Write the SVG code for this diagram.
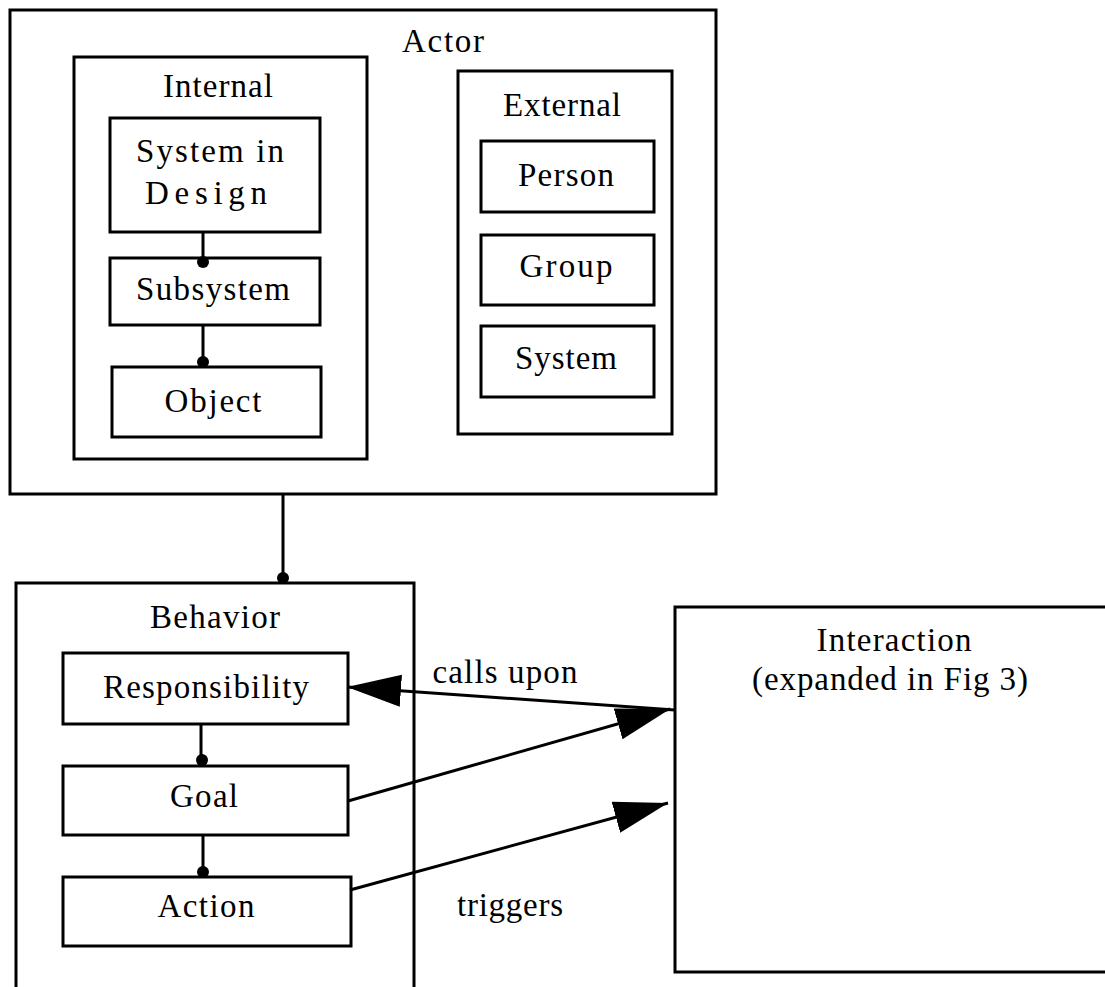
<svg xmlns="http://www.w3.org/2000/svg" width="1105" height="987" viewBox="0 0 1105 987">
<style>
.box{fill:none;stroke:#000;stroke-width:3}
.t{font-family:"Liberation Serif","Times New Roman",serif;font-size:33px;fill:#000;text-anchor:middle}
.ln{fill:none;stroke:#000;stroke-width:3}
.dot{fill:#000}
</style>
<defs>
<marker id="ah" markerUnits="userSpaceOnUse" markerWidth="56" markerHeight="34" viewBox="0 0 56 34" refX="54" refY="17" orient="auto">
<path d="M0,1 L54,17 L0,33 Z" fill="#000"/>
</marker>
</defs>
<rect width="1105" height="987" fill="#fff"/>

<g id="actor">
<rect class="box" x="10" y="10" width="706" height="484"/>
<text class="t" x="443" y="52" textLength="82" lengthAdjust="spacing">Actor</text>
</g>
<g id="internal">
<rect class="box" x="74" y="57" width="293" height="402"/>
<text class="t" x="218" y="97" textLength="110" lengthAdjust="spacing">Internal</text>
</g>
<g id="system-in-design">
<rect class="box" x="110" y="118" width="210" height="114"/>
<text class="t" x="210" y="162" textLength="148" lengthAdjust="spacing">System in</text>
<text class="t" x="206" y="204" textLength="122" lengthAdjust="spacing">Design</text>
</g>
<g id="subsystem">
<rect class="box" x="110" y="258" width="210" height="67"/>
<text class="t" x="213" y="300" textLength="154" lengthAdjust="spacing">Subsystem</text>
</g>
<g id="object">
<rect class="box" x="112" y="367" width="209" height="70"/>
<text class="t" x="213" y="412" textLength="97" lengthAdjust="spacing">Object</text>
</g>
<g id="external">
<rect class="box" x="458" y="71" width="214" height="363"/>
<text class="t" x="562" y="116" textLength="118" lengthAdjust="spacing">External</text>
</g>
<g id="person">
<rect class="box" x="481" y="141" width="173" height="71"/>
<text class="t" x="566" y="186" textLength="96" lengthAdjust="spacing">Person</text>
</g>
<g id="group">
<rect class="box" x="481" y="235" width="173" height="70"/>
<text class="t" x="566" y="277" textLength="93" lengthAdjust="spacing">Group</text>
</g>
<g id="system">
<rect class="box" x="481" y="326" width="173" height="71"/>
<text class="t" x="566" y="369" textLength="102" lengthAdjust="spacing">System</text>
</g>
<g id="behavior">
<rect class="box" x="16" y="583" width="398" height="430"/>
<text class="t" x="215" y="628" textLength="130" lengthAdjust="spacing">Behavior</text>
</g>
<g id="responsibility">
<rect class="box" x="63" y="653" width="285" height="71"/>
<text class="t" x="206" y="698" textLength="206" lengthAdjust="spacing">Responsibility</text>
</g>
<g id="goal">
<rect class="box" x="63" y="766" width="285" height="69"/>
<text class="t" x="204" y="807" textLength="68" lengthAdjust="spacing">Goal</text>
</g>
<g id="action">
<rect class="box" x="63" y="877" width="288" height="69"/>
<text class="t" x="206" y="917" textLength="97" lengthAdjust="spacing">Action</text>
</g>
<g id="interaction">
<rect class="box" x="675" y="607" width="450" height="365"/>
<text class="t" x="894" y="651" textLength="155" lengthAdjust="spacing">Interaction</text>
<text class="t" x="890" y="690" textLength="276" lengthAdjust="spacing">(expanded in Fig 3)</text>
</g>

<g id="connectors">
<line class="ln" x1="203" y1="232" x2="203" y2="258"/>
<circle class="dot" cx="203" cy="262" r="6"/>
<line class="ln" x1="203" y1="325" x2="203" y2="367"/>
<circle class="dot" cx="203" cy="362" r="6"/>
<line class="ln" x1="283" y1="494" x2="283" y2="583"/>
<circle class="dot" cx="283" cy="578" r="6"/>
<line class="ln" x1="201" y1="724" x2="201" y2="766"/>
<circle class="dot" cx="202" cy="760" r="6"/>
<line class="ln" x1="203" y1="835" x2="203" y2="877"/>
<circle class="dot" cx="203" cy="872" r="6"/>
<line class="ln" x1="675" y1="710" x2="347" y2="687" marker-end="url(#ah)"/>
<line class="ln" x1="348" y1="801" x2="670" y2="709" marker-end="url(#ah)"/>
<line class="ln" x1="350" y1="890" x2="668" y2="803" marker-end="url(#ah)"/>
<text class="t" x="505" y="683" textLength="145" lengthAdjust="spacing">calls upon</text>
<text class="t" x="510" y="916" textLength="106" lengthAdjust="spacing">triggers</text>
</g>
</svg>
